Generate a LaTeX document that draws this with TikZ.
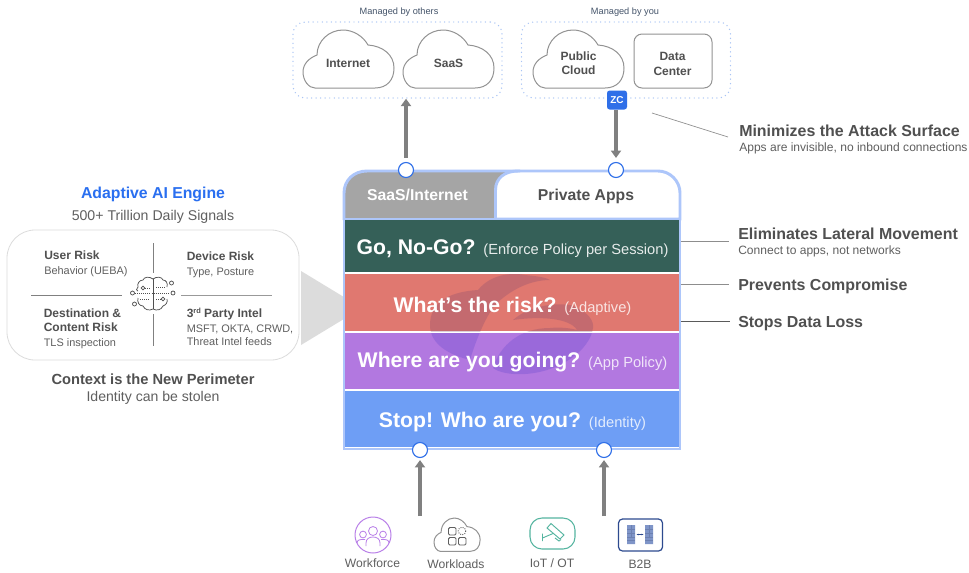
\documentclass[tikz,border=0pt]{standalone}
\usepackage{fontspec}
\setmainfont{Liberation Sans}
\usetikzlibrary{arrows.meta}
\definecolor{txtdark}{HTML}{505050}
\definecolor{txtmid}{HTML}{5F5F5F}
\definecolor{framecol}{HTML}{ADC6FA}
\definecolor{portblue}{HTML}{2F6FE8}
\definecolor{arrowgray}{HTML}{808080}
\definecolor{rowgreen}{HTML}{356058}
\definecolor{rowred}{HTML}{E07870}
\definecolor{rowpurple}{HTML}{B278E0}
\definecolor{rowblue}{HTML}{6E9EF5}
\definecolor{tabgray}{HTML}{A5A5A5}
\definecolor{dotblue}{HTML}{A9C4F5}
\definecolor{wedge}{HTML}{DCDCDC}
\definecolor{topnote}{HTML}{44546A}
\definecolor{aiblue}{HTML}{2A6FF0}
\definecolor{purpleicon}{HTML}{B980E8}
\definecolor{tealicon}{HTML}{55B5A0}
\definecolor{navyicon}{HTML}{2D4A8F}
\definecolor{rackblue}{HTML}{7F95C8}
\definecolor{logored}{HTML}{74446E}
\definecolor{logopurple}{HTML}{5640CC}
\newcommand{\cloudpath}{(12,58) -- (72,58) .. controls (84,58) and (91,50) .. (91,38) .. controls (91,25) and (80,16) .. (65,15) .. controls (60,6) and (50,0) .. (40,0) .. controls (26,0) and (14,11) .. (14,25) .. controls (6,28) and (0,34) .. (0,42) .. controls (0,51) and (6,58) .. (12,58) -- cycle}
\newcommand{\logopath}{(430,325) .. controls (430,305) and (445,292) .. (478,290) .. controls (490,275) and (510,272) .. (525,275) .. controls (535,276) and (545,277) .. (550,280) .. controls (530,280) and (510,290) .. (495,305) .. controls (485,318) and (476,340) .. (470,360) .. controls (450,355) and (430,345) .. (430,325) -- cycle
(513,320) .. controls (530,305) and (555,303) .. (570,305) .. controls (590,312) and (594,322) .. (593,328) .. controls (590,350) and (560,372) .. (525,374) .. controls (510,375) and (498,372) .. (493,368) .. controls (500,345) and (520,328) .. (550,328) .. controls (560,327) and (570,328) .. (577,330) .. controls (570,318) and (540,316) .. (513,320) -- cycle}
\tikzset{
 lbl/.style={inner sep=0pt,anchor=base west,font=#1},
 lbl/.default={\fontsize{9}{11}\selectfont},
 clbl/.style={inner sep=0pt,anchor=base,font=#1},
 dotbox/.style={draw=dotblue,line width=1.1pt,line cap=round,dash pattern=on 0pt off 3.4pt,rounded corners=9pt,inner sep=0pt,minimum width=209*.75pt,minimum height=76*.75pt},
 cloudshape/.style={draw=arrowgray!85,line width=.75pt,fill=white},
 portnode/.style={circle,draw=portblue,fill=white,line width=.85pt,minimum size=15*.75pt,inner sep=0pt},
 flow/.style={draw=arrowgray,line width=2.6pt,-{Triangle[length=5.5pt,width=7.5pt]}},
 rowbox/.style={inner sep=0pt,minimum width=333.5*.75pt,draw=none},
 thinlead/.style={draw=arrowgray!90,line width=.5pt},
 divider/.style={draw=arrowgray,line width=.6pt},
}
\newcommand{\headf}{\fontsize{11.95}{14}\selectfont\bfseries}
\newcommand{\subf}{\fontsize{9.03}{10}\selectfont}
\newcommand{\riskh}{\fontsize{9}{11}\selectfont\bfseries}
\newcommand{\risks}{\fontsize{8.2}{10}\selectfont}
\newcommand{\cloudf}{\fontsize{9}{11}\selectfont\bfseries}
\newcommand{\bigf}{\fontsize{15.9}{18}\selectfont\bfseries}
\newcommand{\smf}{\fontsize{11}{13}\selectfont}
\newcommand{\botf}{\fontsize{9.1}{10}\selectfont}
\begin{document}
\begin{tikzpicture}[x=.75pt,y=-.75pt]
\useasboundingbox (0,0) rectangle (969,572);
\fill[white] (0,0) rectangle (969,572);
% top groups
\node[dotbox] (others) at (397.5,60) {};
\node[dotbox] (yours) at (626,60) {};
\node[clbl=\fontsize{6.9}{8}\selectfont,text=topnote] (noteothers) at (399,14) {Managed by others};
\node[clbl=\fontsize{6.9}{8}\selectfont,text=topnote] (noteyou) at (625,14) {Managed by you};
\draw[cloudshape,shift={(303,30)}] \cloudpath;
\draw[cloudshape,shift={(403,30)}] \cloudpath;
\draw[cloudshape,shift={(533,30)}] \cloudpath;
\node[clbl=\cloudf,text=txtdark] (internet) at (348,67) {Internet};
\node[clbl=\cloudf,text=txtdark] (saas) at (448.5,67) {SaaS};
\node[clbl=\cloudf,text=txtdark] (pubcloud) at (578.5,60) {Public};
\node[clbl=\cloudf,text=txtdark] (pubcloudb) at (578.5,74) {Cloud};
\node[draw=arrowgray!85,line width=.75pt,rounded corners=6pt,minimum width=78*.75pt,minimum height=54*.75pt,inner sep=0pt] (dcbox) at (673,61) {};
\node[clbl=\cloudf,text=txtdark] (dca) at (672.5,60) {Data};
\node[clbl=\cloudf,text=txtdark] (dcb) at (672.5,75) {Center};
% wedge
\fill[wedge] (301,271) -- (362,308) -- (301,345) -- cycle;
% panel
\fill[tabgray] (344,219) -- (344,193) .. controls (344,180) and (354,171) .. (367,171) -- (520,171) -- (520,219) -- cycle;
\draw[framecol,line width=2.2pt,fill=white] (495.5,219) -- (495.5,190) .. controls (495.5,178) and (505,171) .. (518,171) -- (658,171) .. controls (670,171) and (680,181) .. (680,193) -- (680,219) -- cycle;
\draw[framecol,line width=2.2pt] (344,220) -- (344,193) .. controls (344,180) and (354,171) .. (367,171) -- (520,171);
\draw[framecol,line width=2.2pt] (680,219) -- (680,449) -- (344,449) -- (344,219);
\fill[framecol] (345,218) rectangle (679,220);
\node[rowbox,fill=rowgreen,minimum height=52*.75pt] (rowgo) at (511.75,246) {};
\node[rowbox,fill=rowred,minimum height=57*.75pt] (rowrisk) at (511.75,302.5) {};
\node[rowbox,fill=rowpurple,minimum height=56*.75pt] (rowwhere) at (511.75,361) {};
\node[rowbox,fill=rowblue,minimum height=56*.75pt] (rowstop) at (511.75,419) {};
% watermark
\begin{scope}
\clip (345,274) rectangle (679,331.5);
\fill[logored,opacity=.25] \logopath;
\end{scope}
\begin{scope}
\clip (345,333) rectangle (679,389);
\fill[logopurple,opacity=.25] \logopath;
\end{scope}
% panel text
\node[clbl=\fontsize{11.8}{13}\selectfont\bfseries,text=white] (tabsaas) at (417.5,200) {SaaS/Internet};
\node[clbl=\fontsize{11.8}{13}\selectfont\bfseries,text=txtdark] (tabpriv) at (586,200) {Private Apps};
\node[clbl=\bigf,text=white] (txtgo) at (512.5,254) {Go, No-Go? {\smf\mdseries\color{white!88!rowgreen}(Enforce Policy per Session)}};
\node[clbl=\bigf,text=white] (txtrisk) at (512.5,312) {What’s the risk? {\smf\mdseries\color{white!80!rowred}(Adaptive)}};
\node[clbl=\bigf,text=white] (txtwhere) at (512.5,367) {Where are you going? {\smf\mdseries\color{white!80!rowpurple}(App Policy)}};
\node[clbl=\bigf,text=white] (txtstop) at (512.5,427) {Stop! Who are you? {\smf\mdseries\color{white!80!rowblue}(Identity)}};
% ports and arrows
\node[portnode] (portsaas) at (406,170) {};
\node[portnode] (portpriv) at (616,170) {};
\node[portnode] (portleft) at (420,450) {};
\node[portnode] (portright) at (604,450) {};
\node[fill=portblue,rounded corners=2pt,minimum width=20*.75pt,minimum height=19*.75pt,inner sep=0pt,text=white,font=\fontsize{7.5}{9}\selectfont\bfseries] (zc) at (617,100) {ZC};
\draw[flow,shorten <=3pt] (portsaas.north) -- (portsaas.north |- others.south);
\draw[flow,shorten >=3pt] (portpriv.north |- zc.south) -- (portpriv.north);
\coordinate (fromleft) at (420,516);
\coordinate (fromright) at (604,516);
\draw[flow,shorten >=1.5pt] (fromleft) -- (portleft.south);
\draw[flow,shorten >=1.5pt] (fromright) -- (portright.south);
% right leads and labels
\coordinate (leadsurfa) at (652,113);
\coordinate (leadsurfb) at (728,137);
\draw[thinlead] (leadsurfa) -- (leadsurfb);
\coordinate (leadlat) at (681,241); \coordinate (leadlatb) at (729,241);
\coordinate (leadcomp) at (681,284); \coordinate (leadcompb) at (729,284);
\coordinate (leadloss) at (681,321); \coordinate (leadlossb) at (730,321);
\draw[thinlead] (leadlat) -- (leadlatb);
\draw[thinlead] (leadcomp) -- (leadcompb);
\draw[thinlead,draw=arrowgray!70!black] (leadloss) -- (leadlossb);
\node[lbl=\headf,text=txtdark] (mina) at (739,136) {Minimizes the Attack Surface};
\node[lbl=\subf,text=txtmid] (minb) at (739,151) {Apps are invisible, no inbound connections};
\node[lbl=\headf,text=txtdark] (elia) at (738,239) {Eliminates Lateral Movement};
\node[lbl=\subf,text=txtmid] (elib) at (738,254) {Connect to apps, not networks};
\node[lbl=\headf,text=txtdark] (prev) at (738,290) {Prevents Compromise};
\node[lbl=\headf,text=txtdark] (stops) at (738,327) {Stops Data Loss};
% left engine
\node[clbl=\fontsize{11.85}{13}\selectfont\bfseries,text=aiblue] (aititle) at (153,198) {Adaptive AI Engine};
\node[clbl=\fontsize{10.6}{12}\selectfont,text=txtmid] (aisub) at (153,220) {500+ Trillion Daily Signals};
\node[draw=wedge,line width=.6pt,fill=white,rounded corners=21pt,minimum width=292*.75pt,minimum height=130*.75pt,inner sep=0pt] (riskbox) at (153,295) {};
\coordinate (va) at (153,243); \coordinate (vb) at (153,273);
\coordinate (vc) at (153,314); \coordinate (vd) at (153,346);
\coordinate (ha) at (31,295); \coordinate (hb) at (122,295);
\coordinate (hc) at (181,295); \coordinate (hd) at (272,295);
\draw[divider] (va) -- (vb); \draw[divider] (vc) -- (vd);
\draw[divider] (ha) -- (hb); \draw[divider,draw=arrowgray!80] (hc) -- (hd);
\node[lbl=\riskh,text=txtdark] (ura) at (44,259) {User Risk};
\node[lbl=\risks,text=txtmid] (urb) at (44,274) {Behavior (UEBA)};
\node[lbl=\riskh,text=txtdark] (dra) at (186.5,260) {Device Risk};
\node[lbl=\risks,text=txtmid] (drb) at (186.5,275) {Type, Posture};
\node[lbl=\riskh,text=txtdark] (dsa) at (43.5,317) {Destination \&};
\node[lbl=\riskh,text=txtdark] (dsb) at (43.5,331) {Content Risk};
\node[lbl=\risks,text=txtmid] (dsc) at (43.5,346) {TLS inspection};
\node[lbl=\riskh,text=txtdark] (tpa) at (186.5,317) {3\raisebox{2.6pt}{\fontsize{5.6}{6}\selectfont rd} Party Intel};
\node[lbl=\risks,text=txtmid] (tpb) at (186.5,332) {MSFT, OKTA, CRWD,};
\node[lbl=\risks,text=txtmid] (tpc) at (186.5,345) {Threat Intel feeds};
\node[clbl=\fontsize{11}{12}\selectfont\bfseries,text=txtdark] (ctxa) at (153,384) {Context is the New Perimeter};
\node[clbl=\fontsize{10.55}{12}\selectfont,text=txtmid] (ctxb) at (153,401) {Identity can be stolen};
% brain icon
\begin{scope}[draw=txtdark,line width=.55pt]
\draw (153,279) .. controls (149,276) and (144,277) .. (143,280) .. controls (139,280) and (137,284) .. (138,287) .. controls (136,289) and (136,291) .. (138,291);
\draw (153,279) .. controls (157,276) and (162,277) .. (163,280) .. controls (166,280) and (168,283) .. (167,287);
\draw (153,309) .. controls (149,311) and (145,310) .. (143,306) .. controls (139,306) and (137,302) .. (138,298);
\draw (153,309) .. controls (157,311) and (161,310) .. (163,306) .. controls (166,305) and (168,302) .. (167,299);
\draw (153,279) -- (153,309);
\draw[densely dotted] (135,293) -- (170,293);
\draw[densely dotted] (145,288) -- (150,288) (156,287) -- (166,287) (140,299) -- (150,299) (156,299) -- (161,299);
\draw[fill=white] (132.5,293) circle (2) (173,293) circle (2) (171.5,283) circle (2) (134.5,304) circle (2) (143,288) circle (1.8) (163,299) circle (1.8);
\end{scope}
% workforce
\draw[purpleicon,line width=.75pt] (373,535) circle (18);
\begin{scope}[purpleicon,line width=.6pt]
\draw (373,531) circle (4.5) (363,534.5) circle (3.4) (383,534.5) circle (3.4);
\draw (366,546) -- (366,543) .. controls (366,539) and (369,537) .. (373,537) .. controls (377,537) and (380,539) .. (380,543) -- (380,546);
\draw (357,543) .. controls (357,540) and (360,539) .. (365,539.5);
\draw (389,543) .. controls (389,540) and (386,539) .. (381,539.5);
\end{scope}
\node[clbl=\botf,text=txtmid] (lblwf) at (372.5,567) {Workforce};
% workloads
\draw[cloudshape,shift={(434,518)},x=.38pt,y=-.43pt] \cloudpath;
\begin{scope}[draw=txtmid,line width=.7pt]
\draw[rounded corners=1pt] (448.5,527.5) rectangle (456,535);
\draw[rounded corners=1pt] (448.5,537.5) rectangle (456,545);
\draw[rounded corners=1pt] (458.5,537.5) rectangle (466,545);
\draw[densely dotted] (462,531) circle (3.8);
\end{scope}
\node[clbl=\botf,text=txtmid] (lblwl) at (456,568) {Workloads};
% iot
\node[draw=tealicon,line width=.8pt,rounded corners=9pt,minimum width=45*.75pt,minimum height=31*.75pt,inner sep=0pt] (iotbox) at (552.5,533.5) {};
\begin{scope}[draw=tealicon,line width=.7pt]
\draw[fill=white] (547,528) -- (551,523.5) -- (564,535) -- (560,539) -- cycle;
\draw (542.5,533.5) -- (542.5,541) (542.5,538) -- (553,533.5);
\draw (555,538) -- (559,541) -- (561,539.5);
\end{scope}
\node[clbl=\botf,text=txtmid] (lbliot) at (552,567) {IoT / OT};
% b2b
\node[draw=navyicon,line width=.9pt,rounded corners=3pt,minimum width=44*.75pt,minimum height=32*.75pt,inner sep=0pt] (b2bbox) at (640.5,535) {};
\fill[rackblue] (627,525) rectangle (635,544) (645,525) rectangle (653,544);
\draw[navyicon!70,line width=.3pt] (627,529) -- (635,529) (627,533) -- (635,533) (627,537) -- (635,537) (627,540) -- (635,540) (631,525) -- (631,537) (645,529) -- (653,529) (645,533) -- (653,533) (645,537) -- (653,537) (645,540) -- (653,540) (649,525) -- (649,537);
\draw[navyicon,line width=.5pt,{Stealth[length=1.5pt]}-{Stealth[length=1.5pt]}] (636.5,534.5) -- (643.5,534.5);
\node[clbl=\botf,text=txtmid] (lblb2b) at (640,568) {B2B};
\end{tikzpicture}
\end{document}
